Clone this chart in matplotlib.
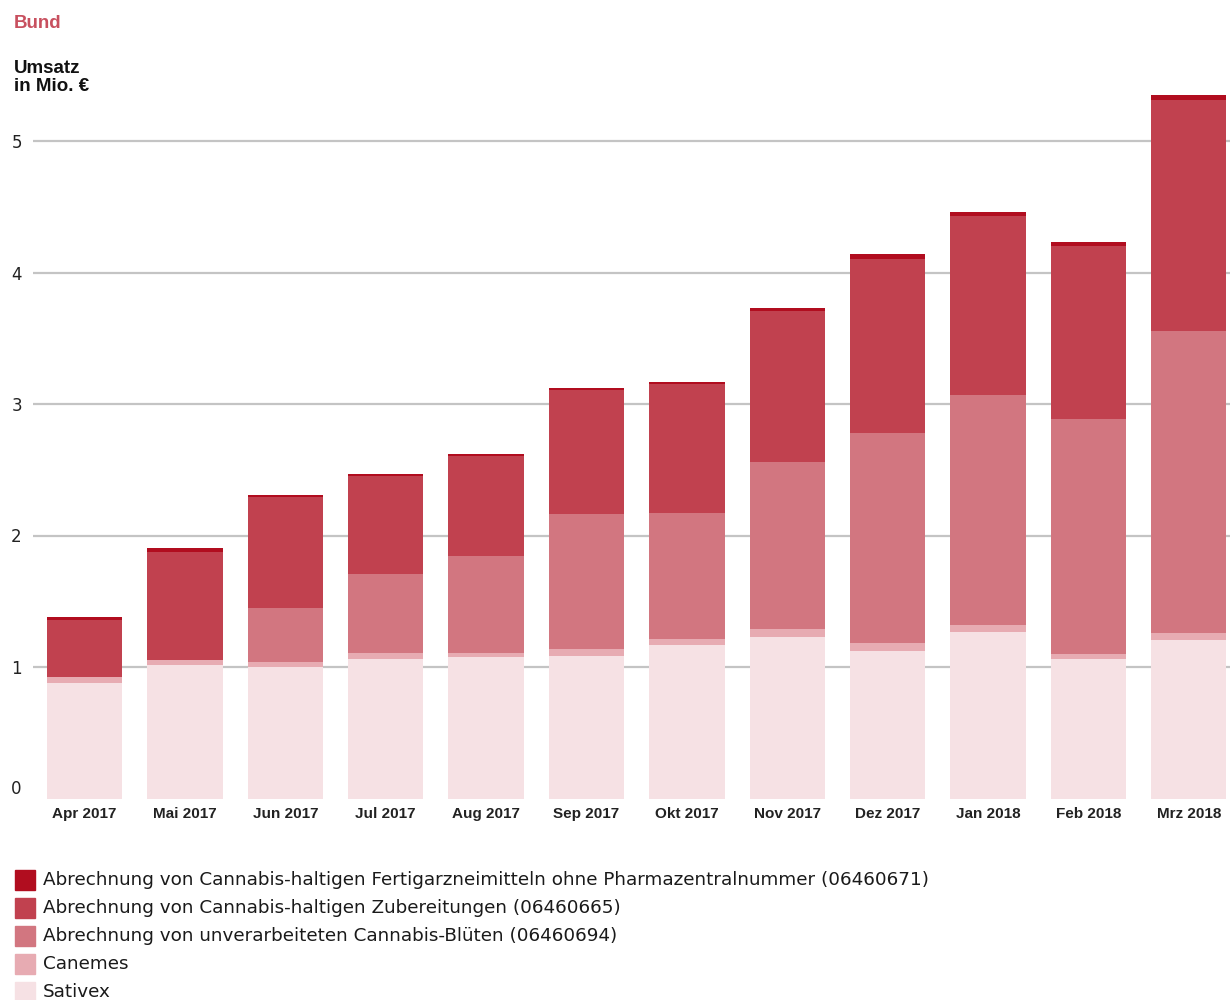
import matplotlib
matplotlib.use("Agg")
import matplotlib.pyplot as plt
from matplotlib.patches import Rectangle
import numpy as np

# Umsatz in Mio. EUR, Bund, Apr 2017 - Mrz 2018
months = ["Apr 2017", "Mai 2017", "Jun 2017", "Jul 2017", "Aug 2017", "Sep 2017",
          "Okt 2017", "Nov 2017", "Dez 2017", "Jan 2018", "Feb 2018", "Mrz 2018"]
sativex = [0.881, 1.015, 0.998, 1.058, 1.074, 1.084, 1.165, 1.230, 1.122, 1.269, 1.059, 1.205]
canemes = [0.041, 0.038, 0.038, 0.046, 0.035, 0.051, 0.050, 0.061, 0.063, 0.053, 0.042, 0.051]
blueten = [0.0, 0.0, 0.410, 0.603, 0.735, 1.026, 0.954, 1.266, 1.597, 1.744, 1.785, 2.301]
zubereitungen = [0.435, 0.824, 0.844, 0.745, 0.763, 0.946, 0.983, 1.153, 1.321, 1.366, 1.313, 1.755]
fertig = [0.021, 0.026, 0.020, 0.016, 0.013, 0.012, 0.018, 0.020, 0.035, 0.031, 0.031, 0.036]

labels = ["Sativex",
          "Canemes",
          "Abrechnung von unverarbeiteten Cannabis-Blüten (06460694)",
          "Abrechnung von Cannabis-haltigen Zubereitungen (06460665)",
          "Abrechnung von Cannabis-haltigen Fertigarzneimitteln ohne Pharmazentralnummer (06460671)"]
colors = ["#f6e1e4", "#e7abb2", "#d27680", "#c1414f", "#b10d1f"]
series = [sativex, canemes, blueten, zubereitungen, fertig]

fig = plt.figure(figsize=(12.3, 10), dpi=100)
ax = fig.add_axes([0.0268, 0.2015, 0.9732, 0.7101])

x = np.arange(len(months))
bottom = np.zeros(len(months))
for vals, col in zip(series, colors):
    ax.bar(x, vals, width=0.75, bottom=bottom, color=col, zorder=3)
    bottom += np.array(vals)

ax.set_xlim(-0.513, 11.41)
ax.set_ylim(0, 5.4)
ax.set_yticks([0, 1, 2, 3, 4, 5])
ax.set_xticks(x)
ax.set_xticklabels(months, fontfamily="Liberation Sans", fontweight="bold", fontsize=11, color="#222222")
ax.tick_params(axis="x", length=0, pad=6)
ax.tick_params(axis="y", length=0, pad=8, labelsize=12, labelcolor="#222222")
for lab in ax.get_yticklabels():
    lab.set_fontfamily("DejaVu Sans")
ax.get_yticklabels()[0].set_va("bottom")

ax.grid(axis="y", color="#c4c4c4", linewidth=1.6, zorder=0)
ax.yaxis.get_gridlines()[0].set_visible(False)
for s in ax.spines.values():
    s.set_visible(False)

fig.text(0.011, 0.977, "Bund", color="#c8505f", fontsize=13.5, fontweight="bold",
         fontfamily="Liberation Sans", va="center")
fig.text(0.011, 0.9225, "Umsatz\nin Mio. €", color="#111111", fontsize=13.5, fontweight="bold",
         fontfamily="Liberation Sans", va="center", linespacing=1.1)

# legend, top entry = last series
ys = [880, 908, 936, 964, 992]
for i, (lab, col) in enumerate(zip(labels[::-1], colors[::-1])):
    yc = ys[i]
    fig.add_artist(Rectangle((15 / 1230, 1 - (yc + 10) / 1000), 20 / 1230, 20 / 1000,
                             transform=fig.transFigure, color=col))
    fig.text(43 / 1230, 1 - yc / 1000, lab, fontsize=13.2, fontfamily="DejaVu Sans",
             color="#1a1a1a", va="center")

fig.savefig("out.png", dpi=100)
